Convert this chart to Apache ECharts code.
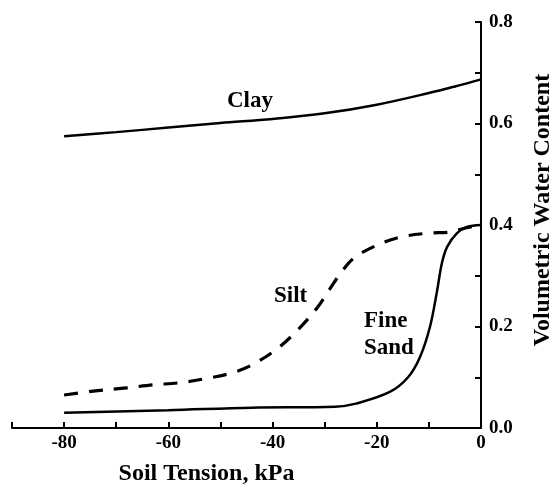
<!DOCTYPE html>
<html>
<head>
<meta charset="utf-8">
<script src="https://cdn.jsdelivr.net/npm/echarts@6/dist/echarts.min.js"></script>
<style>
  html, body { margin: 0; padding: 0; background: #fff; }
  #chart { width: 552px; height: 485px; }
</style>
</head>
<body>
<div id="chart"></div>
<script>
const clayTension = [-80, -70, -60, -50, -40, -30, -20, -10, -5, 0];
const clayContent = [0.575, 0.583, 0.592, 0.601, 0.609, 0.620, 0.637, 0.660, 0.673, 0.687];

const siltTension = [-80, -74, -68, -63, -58, -53, -48, -44, -39, -35, -31.5, -29, -27, -24.5, -20, -15.5, -10, -6, -3, 0];
const siltContent = [0.065, 0.073, 0.079, 0.085, 0.089, 0.097, 0.108, 0.124, 0.157, 0.195, 0.236, 0.274, 0.304, 0.334, 0.36, 0.376, 0.384, 0.386, 0.394, 0.40];

const sandTension = [-80, -60, -44, -28, -24, -17.5, -14, -11.7, -9.8, -8.5, -7.5, -6.5, -4.6, -2.7, 0];
const sandContent = [0.030, 0.035, 0.040, 0.042, 0.048, 0.071, 0.10, 0.14, 0.199, 0.266, 0.325, 0.357, 0.384, 0.396, 0.40];

const font = "'Liberation Serif', 'DejaVu Serif', serif";
const pairs = (xs, ys) => xs.map((x, i) => [x, ys[i]]);

const chart = echarts.init(document.getElementById('chart'));

const lineBase = {
  type: 'line',
  showSymbol: false,
  smooth: 0.35,
  silent: true,
};

const option = {
  backgroundColor: '#fff',
  animation: false,
  grid: { left: 12, right: 71, top: 22, bottom: 57, outerBoundsMode: 'none' },
  xAxis: {
    type: 'value',
    min: -90,
    max: 0,
    interval: 10,
    name: 'Soil Tension, kPa',
    nameLocation: 'middle',
    nameGap: 34,
    nameTextStyle: { color: '#000', fontFamily: font, fontWeight: 'bold', fontSize: 24, padding: [0, 80, 0, 0] },
    axisLine: { lineStyle: { color: '#000', width: 2 } },
    axisTick: { inside: true, length: 6, lineStyle: { color: '#000', width: 2 } },
    axisLabel: {
      color: '#000', fontFamily: font, fontWeight: 'bold', fontSize: 19, margin: 6,
      formatter: v => (v % 20 === 0 ? String(v) : '')
    },
    splitLine: { show: false }
  },
  yAxis: {
    type: 'value',
    position: 'right',
    min: 0,
    max: 0.8,
    interval: 0.1,
    name: 'Volumetric Water Content',
    nameLocation: 'middle',
    nameRotate: 90,
    nameGap: 50,
    nameTextStyle: { color: '#000', fontFamily: font, fontWeight: 'bold', fontSize: 24, padding: [0, 0, 0, 30] },
    axisLine: { show: true, lineStyle: { color: '#000', width: 2 } },
    axisTick: { inside: true, length: 6, lineStyle: { color: '#000', width: 2 } },
    axisLabel: {
      color: '#000', fontFamily: font, fontWeight: 'bold', fontSize: 19, margin: 8,
      formatter: v => (Math.round(v * 10) % 2 === 0 ? v.toFixed(1) : '')
    },
    splitLine: { show: false }
  },
  graphic: [
    { type: 'text', left: 227, top: 90, style: { text: 'Clay', fill: '#000', font: 'bold 23px ' + font } },
    { type: 'text', left: 274, top: 285, style: { text: 'Silt', fill: '#000', font: 'bold 23px ' + font } },
    { type: 'text', left: 364, top: 308, style: { text: 'Fine\nSand', fill: '#000', font: 'bold 23px ' + font, lineHeight: 27 } }
  ],
  series: [
    { ...lineBase, name: 'Clay', data: pairs(clayTension, clayContent), lineStyle: { color: '#000', width: 2.5 } },
    { ...lineBase, name: 'Silt', data: pairs(siltTension, siltContent), lineStyle: { color: '#000', width: 3.2, type: [14, 11] } },
    { ...lineBase, name: 'Fine Sand', data: pairs(sandTension, sandContent), lineStyle: { color: '#000', width: 2.5 } }
  ]
};

chart.setOption(option);
</script>
</body>
</html>
